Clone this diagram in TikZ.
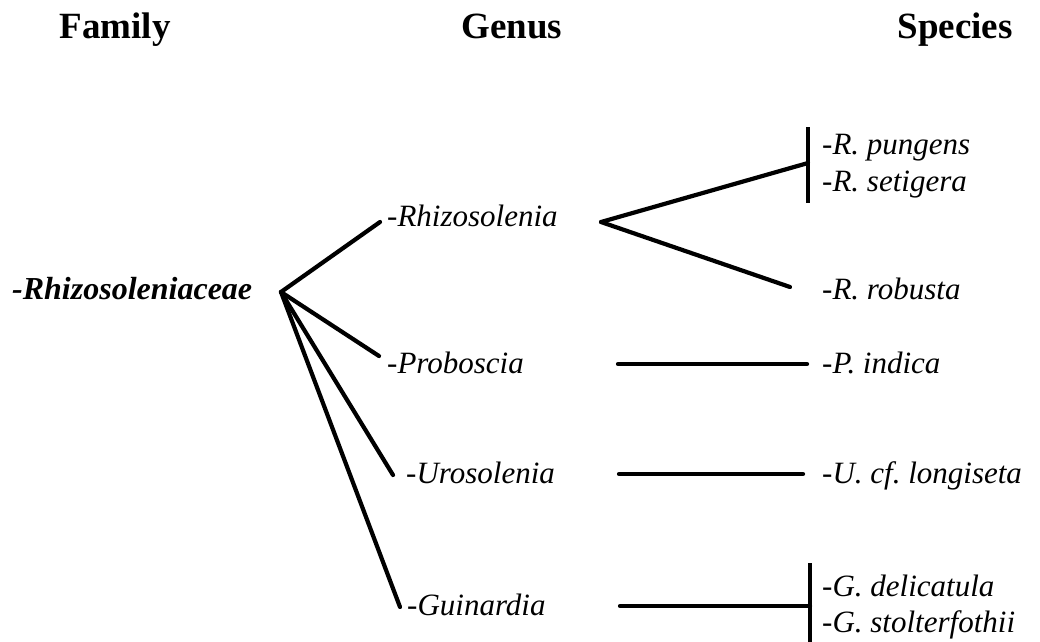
\documentclass[tikz,border=0pt]{standalone}
\usepackage{fontspec}
\setmainfont{Liberation Serif}
\usetikzlibrary{calc}
\frenchspacing

\begin{document}
\begin{tikzpicture}[
  x=1pt, y=-1pt,
  head/.style={font=\bfseries\fontsize{37}{40}\selectfont, anchor=base, inner sep=0pt},
  taxon/.style={font=\itshape\fontsize{31}{34}\selectfont, anchor=base west, inner sep=0pt},
  famtaxon/.style={taxon, font=\bfseries\itshape\fontsize{32}{35}\selectfont},
  branch/.style={line width=4.2pt, line cap=round},
  bar/.style={line width=4.2pt},
]
\useasboundingbox (0,0) rectangle (1040,641);

% Column headings
\node[head] (hfam) at (115,38) {Family};
\node[head] (hgen) at (512,38) {Genus};
\node[head] (hspe) at (955,38) {Species};

% Family
\node[famtaxon] (fam) at (12,299) {-Rhizosoleniaceae};

% Genera
\foreach \nm/\x/\y/\txt in {rhiz/387/226/Rhizosolenia, prob/387/373/Proboscia,
  uros/406/483/Urosolenia, guin/407/615/Guinardia} {
  \node[taxon] (\nm) at (\x,\y) {-\txt};
}

% Species
\foreach \nm/\y/\txt in {rpun/154/R. pungens, rset/191/R. setigera, rrob/299/R. robusta,
  pind/373/P. indica, ulon/483/U. cf. longiseta, gdel/596/G. delicatula,
  gsto/632/G. stolterfothii} {
  \node[taxon] (\nm) at (822,\y) {-\txt};
}

% Branch points
\coordinate (hub) at (281,292);
\coordinate (fork) at (601,222);
\coordinate (rbar) at (808,163);
\coordinate (gbar) at (810,606);

% Family to genera
\coordinate (rhizin) at (380,222);
\coordinate (probin) at (379,356);
\coordinate (urosin) at (393,475);
\coordinate (guinin) at (400,607);
\foreach \e in {rhizin,probin,urosin,guinin}
  \draw[branch] (hub) -- (\e);

% Genera to species
\coordinate (rrobin) at (790,287);
\draw[branch] (fork) -- (rbar);
\draw[branch] (fork) -- (rrobin);
\draw[bar] ($(rbar)+(0,-36)$) -- ($(rbar)+(0,40)$);

\coordinate (probout) at (618,364);
\coordinate (pindin) at (807,364);
\draw[branch] (probout) -- (pindin);

\coordinate (urosout) at (619,474);
\coordinate (ulonin) at (803,474);
\draw[branch] (urosout) -- (ulonin);

\coordinate (guinout) at (620,606);
\draw[branch] (guinout) -- (gbar);
\draw[bar] ($(gbar)+(0,-43)$) -- ($(gbar)+(0,42)$);

\end{tikzpicture}
\end{document}
